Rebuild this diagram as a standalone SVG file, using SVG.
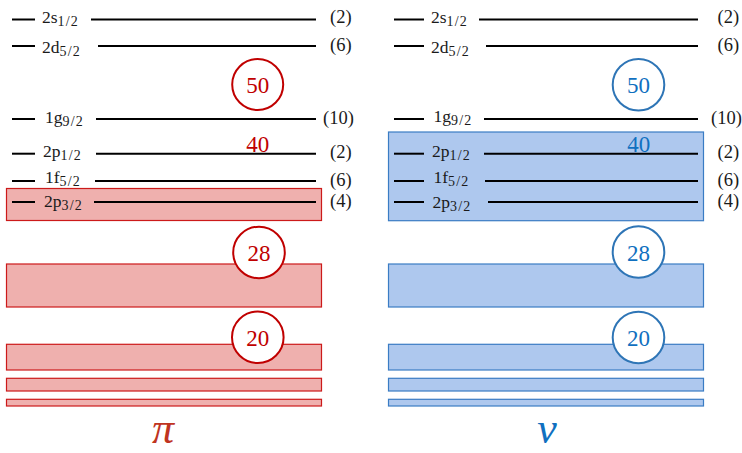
<svg xmlns="http://www.w3.org/2000/svg" width="742" height="453" viewBox="0 0 742 453" font-family="'Liberation Serif', 'DejaVu Serif', serif">
<style>
.lv{stroke:#000;stroke-width:2;}
.lab{font-family:'Liberation Serif','DejaVu Serif',serif;font-size:17.5px;fill:#1a1a1a;}
.sub{font-size:14px;letter-spacing:1.2px;}
.deg{font-family:'Liberation Serif','DejaVu Serif',serif;font-size:18.5px;fill:#1a1a1a;}
.pbox{fill:#efb0ae;stroke:#cc1a1a;stroke-width:1.2;}
.nbox{fill:#aec8ee;stroke:#3a7cc4;stroke-width:1.2;}
.pc{fill:#fff;stroke:#c00000;stroke-width:2;}
.nc{fill:#fff;stroke:#2e75b6;stroke-width:2;}
.pn{font-family:'Liberation Serif','DejaVu Serif',serif;font-size:23px;fill:#c00000;text-anchor:middle;}
.nn{font-family:'Liberation Serif','DejaVu Serif',serif;font-size:23px;fill:#1070c0;text-anchor:middle;}
.sym{font-family:'Liberation Serif','DejaVu Serif',serif;font-size:44px;font-style:italic;text-anchor:middle;}
</style>

<g id="proton">
  <g id="p-boxes">
    <rect class="pbox" x="6.5" y="188.5" width="315" height="32"/>
    <rect class="pbox" x="6.5" y="264" width="315" height="43"/>
    <rect class="pbox" x="6.5" y="344.3" width="315" height="25.7"/>
    <rect class="pbox" x="6.5" y="378.3" width="315" height="12.7"/>
    <rect class="pbox" x="6.5" y="399.3" width="315" height="6.7"/>
  </g>
  <g id="p-2s">
    <line class="lv" x1="12" y1="19.5" x2="35" y2="19.5"/>
    <line class="lv" x1="91" y1="19.5" x2="316" y2="19.5"/>
    <text class="lab" x="42" y="22.5">2s<tspan class="sub" dy="3">1/2</tspan></text>
    <text class="deg" x="330" y="23">(2)</text>
  </g>
  <g id="p-2d">
    <line class="lv" x1="12" y1="46" x2="35" y2="46"/>
    <line class="lv" x1="98" y1="46" x2="316" y2="46"/>
    <text class="lab" x="42" y="53">2d<tspan class="sub" dy="3">5/2</tspan></text>
    <text class="deg" x="330" y="51">(6)</text>
  </g>
  <g id="p-1g">
    <line class="lv" x1="12" y1="119" x2="35" y2="119"/>
    <line class="lv" x1="96" y1="119" x2="316" y2="119"/>
    <text class="lab" x="45" y="123">1g<tspan class="sub" dy="3">9/2</tspan></text>
    <text class="deg" x="323" y="124">(10)</text>
  </g>
  <g id="p-2p12">
    <line class="lv" x1="12" y1="153.7" x2="35" y2="153.7"/>
    <line class="lv" x1="96" y1="153.7" x2="316" y2="153.7"/>
    <text class="lab" x="43" y="156.5">2p<tspan class="sub" dy="3">1/2</tspan></text>
    <text class="deg" x="330" y="158">(2)</text>
  </g>
  <g id="p-1f">
    <line class="lv" x1="12" y1="181" x2="35" y2="181"/>
    <line class="lv" x1="95" y1="181" x2="316" y2="181"/>
    <text class="lab" x="45" y="182.5">1f<tspan class="sub" dy="3">5/2</tspan></text>
    <text class="deg" x="330" y="186">(6)</text>
  </g>
  <g id="p-2p32">
    <line class="lv" x1="12" y1="202" x2="35" y2="202"/>
    <line class="lv" x1="94" y1="202" x2="316" y2="202"/>
    <text class="lab" x="44" y="206.5">2p<tspan class="sub" dy="3">3/2</tspan></text>
    <text class="deg" x="330" y="207">(4)</text>
  </g>
  <g id="p-magic">
    <circle class="pc" cx="257.7" cy="84.5" r="25.5"/>
    <text class="pn" x="257.7" y="93">50</text>
    <text class="pn" x="257.7" y="152">40</text>
    <circle class="pc" cx="259" cy="252.5" r="25.8"/>
    <text class="pn" x="259" y="261">28</text>
    <circle class="pc" cx="257.8" cy="337.2" r="25.8"/>
    <text class="pn" x="257.8" y="345.5">20</text>
  </g>
  <text id="pi" class="sym" x="163" y="443" fill="#c0341f">π</text>
</g>

<g id="neutron">
  <g id="n-boxes">
    <rect class="nbox" x="388.5" y="132" width="315" height="88.7"/>
    <rect class="nbox" x="388.5" y="264" width="315" height="43"/>
    <rect class="nbox" x="388.5" y="344.3" width="315" height="25.7"/>
    <rect class="nbox" x="388.5" y="378.3" width="315" height="12.7"/>
    <rect class="nbox" x="388.5" y="399.3" width="315" height="6.7"/>
  </g>
  <g id="n-2s">
    <line class="lv" x1="394" y1="19.5" x2="424" y2="19.5"/>
    <line class="lv" x1="479" y1="19.5" x2="698" y2="19.5"/>
    <text class="lab" x="431" y="22.5">2s<tspan class="sub" dy="3">1/2</tspan></text>
    <text class="deg" x="717.5" y="23">(2)</text>
  </g>
  <g id="n-2d">
    <line class="lv" x1="394" y1="46" x2="424" y2="46"/>
    <line class="lv" x1="486" y1="46" x2="698" y2="46"/>
    <text class="lab" x="431" y="53">2d<tspan class="sub" dy="3">5/2</tspan></text>
    <text class="deg" x="717.5" y="51">(6)</text>
  </g>
  <g id="n-1g">
    <line class="lv" x1="394" y1="119" x2="424" y2="119"/>
    <line class="lv" x1="484" y1="119" x2="698" y2="119"/>
    <text class="lab" x="433.5" y="121.5">1g<tspan class="sub" dy="3">9/2</tspan></text>
    <text class="deg" x="711" y="124">(10)</text>
  </g>
  <g id="n-2p12">
    <line class="lv" x1="394" y1="153.7" x2="424" y2="153.7"/>
    <line class="lv" x1="484" y1="153.7" x2="698" y2="153.7"/>
    <text class="lab" x="432" y="156.5">2p<tspan class="sub" dy="3">1/2</tspan></text>
    <text class="deg" x="717.5" y="158">(2)</text>
  </g>
  <g id="n-1f">
    <line class="lv" x1="394" y1="181" x2="424" y2="181"/>
    <line class="lv" x1="485" y1="181" x2="698" y2="181"/>
    <text class="lab" x="433.5" y="183">1f<tspan class="sub" dy="3">5/2</tspan></text>
    <text class="deg" x="717.5" y="186">(6)</text>
  </g>
  <g id="n-2p32">
    <line class="lv" x1="394" y1="202" x2="424" y2="202"/>
    <line class="lv" x1="488" y1="202" x2="698" y2="202"/>
    <text class="lab" x="432.5" y="208">2p<tspan class="sub" dy="3">3/2</tspan></text>
    <text class="deg" x="717.5" y="207">(4)</text>
  </g>
  <g id="n-magic">
    <circle class="nc" cx="638.5" cy="84.7" r="25.8"/>
    <text class="nn" x="638.5" y="93">50</text>
    <text class="nn" x="638.7" y="152">40</text>
    <circle class="nc" cx="638.5" cy="252" r="25.8"/>
    <text class="nn" x="638.5" y="260.5">28</text>
    <circle class="nc" cx="638.5" cy="337.5" r="25.8"/>
    <text class="nn" x="638.5" y="346">20</text>
  </g>
  <text id="nu" class="sym" x="547" y="443" fill="#1070c0">ν</text>
</g>
</svg>
